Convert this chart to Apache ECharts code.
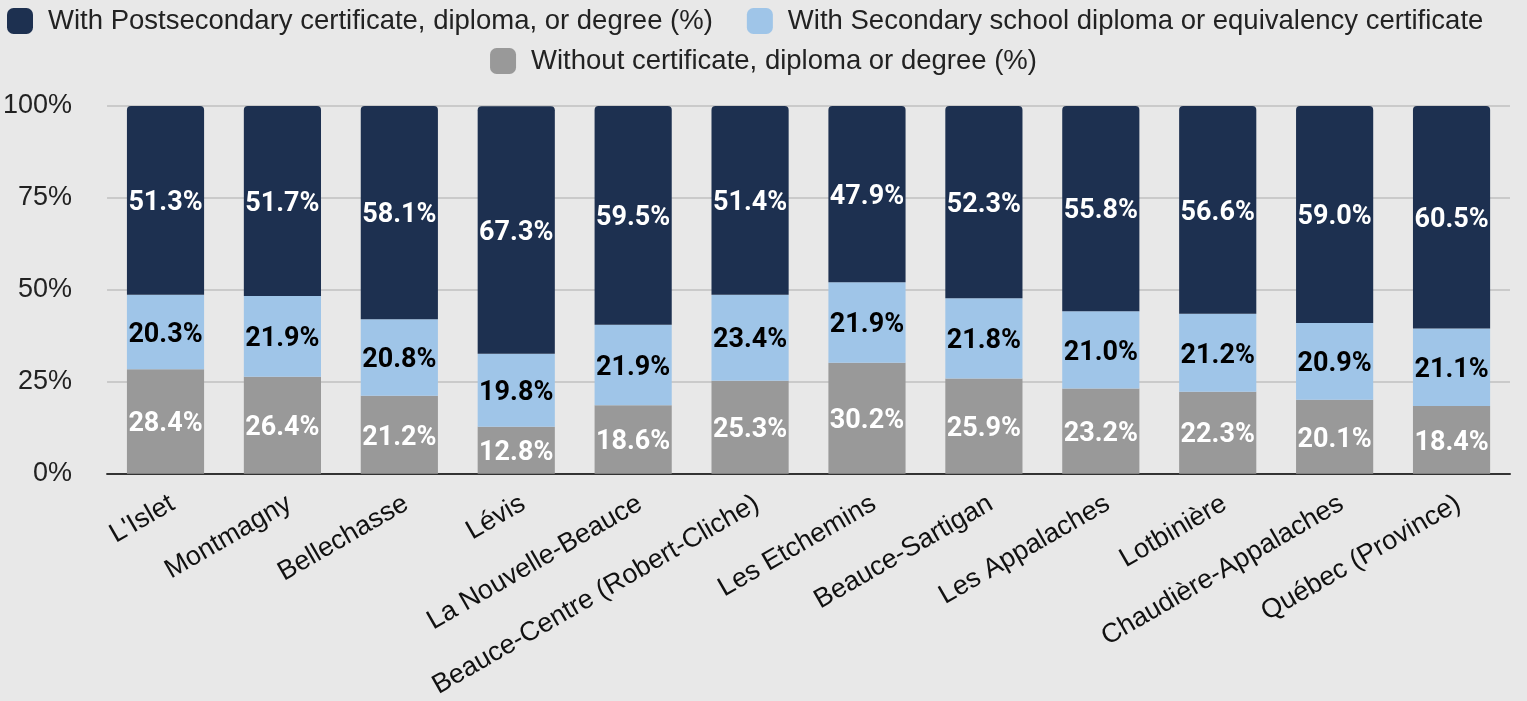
<!DOCTYPE html>
<html>
<head>
<meta charset="utf-8">
<script src="https://cdn.jsdelivr.net/npm/echarts@6/dist/echarts.min.js"></script>
<style>
    html, body { margin: 0; padding: 0; background: #e8e8e8; }
    #chart { width: 1527px; height: 701px; }
</style>
</head>
<body>
<div id="chart"></div>
<script>
// régions
const categories = ["L'Islet", 'Montmagny', 'Bellechasse', 'Lévis', 'La Nouvelle-Beauce',
    'Beauce-Centre (Robert-Cliche)', 'Les Etchemins', 'Beauce-Sartigan', 'Les Appalaches',
    'Lotbinière', 'Chaudière-Appalaches', 'Québec (Province)'];
const postsecondary = [51.3, 51.7, 58.1, 67.3, 59.5, 51.4, 47.9, 52.3, 55.8, 56.6, 59.0, 60.5];
const secondary = [20.3, 21.9, 20.8, 19.8, 21.9, 23.4, 21.9, 21.8, 21.0, 21.2, 20.9, 21.1];
const without = [28.4, 26.4, 21.2, 12.8, 18.6, 25.3, 30.2, 25.9, 23.2, 22.3, 20.1, 18.4];
const yTicks = [0, 25, 50, 75, 100];

const names = [
    'With Postsecondary certificate, diploma, or degree (%)',
    'With Secondary school diploma or equivalency certificate',
    'Without certificate, diploma or degree (%)'
];
const colors = ['#1d3050', '#9fc5e8', '#999999'];

let chart = echarts.init(document.getElementById('chart'));

function makeLabel(color, border) {
    return {
        show: true,
        position: 'inside',
        offset: [0, 3],
        formatter: function (p) { return p.value.toFixed(1) + '%'; },
        fontFamily: 'Roboto',
        fontWeight: 'bold',
        fontSize: 27,
        color: color,
        textBorderColor: border,
        textBorderWidth: 2
    };
}

const legendText = {
    fontFamily: 'Liberation Sans',
    fontSize: 27.5,
    color: '#222',
    padding: [0, 0, 0, 10]
};

let option = {
    backgroundColor: '#e8e8e8',
    animation: false,
    legend: [
        {
            data: [names[0], names[1]],
            left: 2,
            top: 2,
            itemWidth: 26,
            itemHeight: 26,
            itemGap: 34,
            icon: 'roundRect',
            textStyle: legendText
        },
        {
            data: [names[2]],
            left: 'center',
            top: 42,
            itemWidth: 26,
            itemHeight: 26,
            icon: 'roundRect',
            textStyle: legendText
        }
    ],
    grid: { left: 105, right: 17, top: 106, bottom: 225, containLabel: false },
    xAxis: {
        type: 'category',
        data: categories,
        axisTick: { show: false },
        axisLine: { lineStyle: { color: '#333', width: 2 } },
        axisLabel: {
            rotate: 30,
            interval: 0,
            margin: 32,
            padding: [0, -8, 0, 0],
            fontFamily: 'Liberation Sans',
            fontSize: 27,
            color: '#111'
        }
    },
    yAxis: {
        type: 'value',
        min: 0,
        max: 100,
        interval: 25,
        axisLine: { show: false },
        axisTick: { show: false },
        splitLine: { lineStyle: { color: '#cacaca', width: 2 } },
        axisLabel: {
            margin: 35,
            fontFamily: 'Liberation Sans',
            fontSize: 27,
            color: '#222',
            formatter: function (v) { return yTicks.indexOf(v) >= 0 ? v + '%' : ''; }
        }
    },
    series: [
        {
            name: names[2],
            type: 'bar',
            stack: 'total',
            barWidth: '66%',
            data: without,
            itemStyle: { color: colors[2] },
            label: makeLabel('#fff', colors[2])
        },
        {
            name: names[1],
            type: 'bar',
            stack: 'total',
            data: secondary,
            itemStyle: { color: colors[1] },
            label: makeLabel('#000', colors[1])
        },
        {
            name: names[0],
            type: 'bar',
            stack: 'total',
            data: postsecondary,
            itemStyle: { color: colors[0], borderRadius: [4, 4, 0, 0] },
            label: makeLabel('#fff', colors[0])
        }
    ]
};
chart.setOption(option);
window.addEventListener('resize', () => chart.resize());
</script>
</body>
</html>
